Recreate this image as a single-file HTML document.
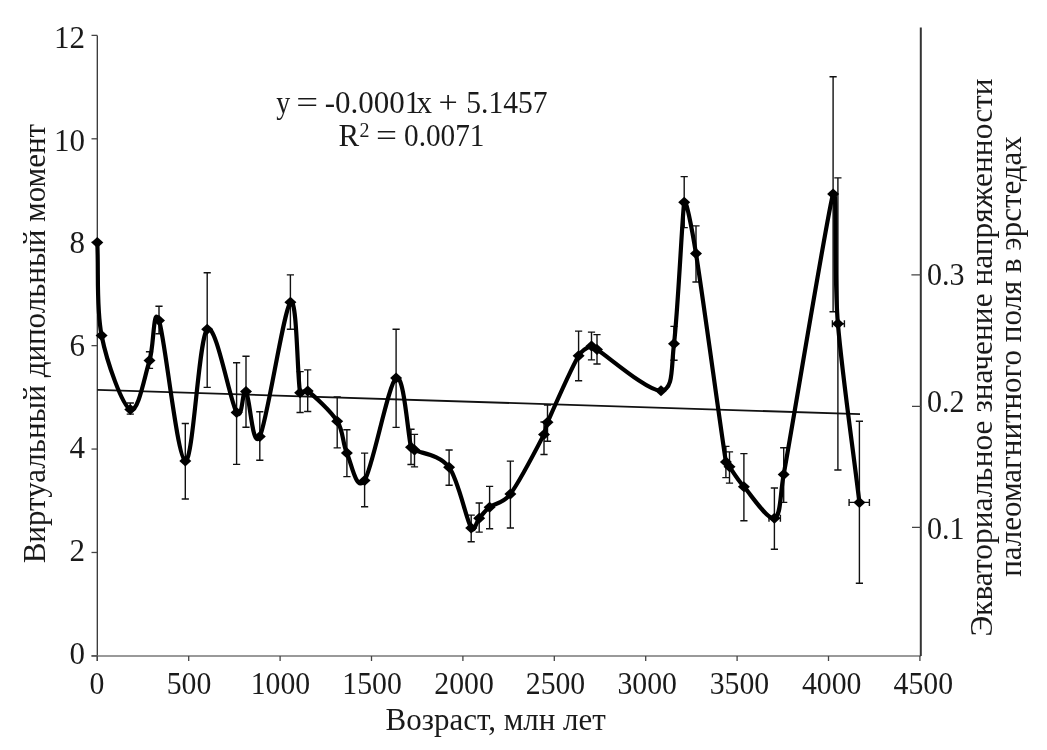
<!DOCTYPE html>
<html><head><meta charset="utf-8"><style>
html,body{margin:0;padding:0;background:#fff;width:1047px;height:750px;overflow:hidden}
svg{display:block;will-change:transform}
text{font-family:"Liberation Serif",serif;fill:#1a1a1a}
</style></head><body>
<svg width="1047" height="750" viewBox="0 0 1047 750">
<rect width="1047" height="750" fill="#fff"/>
<g stroke="#444" stroke-width="1.3" fill="none">
<path d="M97.3,35.4 V661" stroke="#333"/>
<path d="M91.5,656 H920.8" stroke="#777" stroke-width="1.6"/>
<path d="M920.8,27.6 V656" stroke="#333" stroke-width="2"/>
<path d="M91.5,655.90 H97.3"/><path d="M91.5,552.48 H97.3"/><path d="M91.5,449.06 H97.3"/><path d="M91.5,345.64 H97.3"/><path d="M91.5,242.22 H97.3"/><path d="M91.5,138.80 H97.3"/><path d="M91.5,35.38 H97.3"/><path d="M97.30,656 V661"/><path d="M188.70,656 V661"/><path d="M280.10,656 V661"/><path d="M371.50,656 V661"/><path d="M462.90,656 V661"/><path d="M554.30,656 V661"/><path d="M645.70,656 V661"/><path d="M737.10,656 V661"/><path d="M828.50,656 V661"/><path d="M919.90,656 V661"/>
<path d="M911.4,274.8 H920.8 M912,406.4 H920.8 M912,527.4 H920.8"/>
</g>
<g font-size="31" text-anchor="middle"><text transform="translate(97.00,694) scale(0.96,1)">0</text><text transform="translate(189.00,694) scale(0.96,1)">500</text><text transform="translate(280.40,694) scale(0.96,1)">1000</text><text transform="translate(372.10,694) scale(0.96,1)">1500</text><text transform="translate(464.10,694) scale(0.96,1)">2000</text><text transform="translate(555.50,694) scale(0.96,1)">2500</text><text transform="translate(647.20,694) scale(0.96,1)">3000</text><text transform="translate(739.40,694) scale(0.96,1)">3500</text><text transform="translate(831.70,694) scale(0.96,1)">4000</text><text transform="translate(923.30,694) scale(0.96,1)">4500</text></g>
<g font-size="31" text-anchor="end"><text x="85" y="664.00">0</text><text x="85" y="561.30">2</text><text x="85" y="458.30">4</text><text x="85" y="355.50">6</text><text x="85" y="253.10">8</text><text x="85" y="150.50">10</text><text x="85" y="47.80">12</text></g>
<g font-size="31" text-anchor="start">
<text transform="translate(927,285) scale(0.97,1)">0.3</text><text transform="translate(927,412) scale(0.97,1)">0.2</text><text transform="translate(927,538.5) scale(0.97,1)">0.1</text>
</g>
<path d="M97.3,389.9 L860,414.1" stroke="#111" stroke-width="1.8" fill="none"/>
<g stroke="#111" stroke-width="1.4" fill="none">
<path d="M130.3,403.0 V414.1 M126.7,403.0 H133.9 M126.7,414.1 H133.9"/><path d="M149.5,351.8 V368.4 M145.9,351.8 H153.1 M145.9,368.4 H153.1"/><path d="M159.0,306.3 V333.8 M155.4,306.3 H162.6 M155.4,333.8 H162.6"/><path d="M185.3,423.5 V499.0 M181.7,423.5 H188.9 M181.7,499.0 H188.9"/><path d="M207.2,272.7 V387.4 M203.6,272.7 H210.8 M203.6,387.4 H210.8"/><path d="M236.6,362.8 V464.4 M233.0,362.8 H240.2 M233.0,464.4 H240.2"/><path d="M246.0,356.2 V427.3 M242.4,356.2 H249.6 M242.4,427.3 H249.6"/><path d="M259.8,411.7 V460.2 M256.2,411.7 H263.4 M256.2,460.2 H263.4"/><path d="M290.4,274.9 V329.3 M286.8,274.9 H294.0 M286.8,329.3 H294.0"/><path d="M300.1,371.6 V412.5 M296.5,371.6 H303.7 M296.5,412.5 H303.7"/><path d="M307.7,369.9 V411.5 M304.1,369.9 H311.3 M304.1,411.5 H311.3"/><path d="M337.2,396.9 V447.9 M333.6,396.9 H340.8 M333.6,447.9 H340.8"/><path d="M346.9,429.8 V476.6 M343.3,429.8 H350.5 M343.3,476.6 H350.5"/><path d="M364.6,453.1 V506.8 M361.0,453.1 H368.2 M361.0,506.8 H368.2"/><path d="M396.1,329.3 V427.4 M392.5,329.3 H399.7 M392.5,427.4 H399.7"/><path d="M411.0,429.2 V464.5 M407.4,429.2 H414.6 M407.4,464.5 H414.6"/><path d="M414.5,434.4 V466.9 M410.9,434.4 H418.1 M410.9,466.9 H418.1"/><path d="M449.1,450.0 V485.3 M445.5,450.0 H452.7 M445.5,485.3 H452.7"/><path d="M471.2,515.1 V541.8 M467.6,515.1 H474.8 M467.6,541.8 H474.8"/><path d="M479.2,503.0 V532.1 M475.6,503.0 H482.8 M475.6,532.1 H482.8"/><path d="M489.6,486.4 V528.7 M486.0,486.4 H493.2 M486.0,528.7 H493.2"/><path d="M510.4,461.1 V528.0 M506.8,461.1 H514.0 M506.8,528.0 H514.0"/><path d="M544.0,422.0 V454.5 M540.4,422.0 H547.6 M540.4,454.5 H547.6"/><path d="M547.5,405.0 V441.3 M543.9,405.0 H551.1 M543.9,441.3 H551.1"/><path d="M578.6,331.1 V380.7 M575.0,331.1 H582.2 M575.0,380.7 H582.2"/><path d="M591.5,332.1 V359.9 M587.9,332.1 H595.1 M587.9,359.9 H595.1"/><path d="M597.0,334.6 V364.0 M593.4,334.6 H600.6 M593.4,364.0 H600.6"/><path d="M674.0,326.4 V360.3 M670.4,326.4 H677.6 M670.4,360.3 H677.6"/><path d="M684.2,176.6 V227.6 M680.6,176.6 H687.8 M680.6,227.6 H687.8"/><path d="M696.0,225.9 V282.0 M692.4,225.9 H699.6 M692.4,282.0 H699.6"/><path d="M725.9,446.4 V477.6 M722.3,446.4 H729.5 M722.3,477.6 H729.5"/><path d="M729.5,451.9 V483.1 M725.9,451.9 H733.1 M725.9,483.1 H733.1"/><path d="M743.9,453.6 V520.8 M740.3,453.6 H747.5 M740.3,520.8 H747.5"/><path d="M774.4,488.0 V549.2 M770.8,488.0 H778.0 M770.8,549.2 H778.0"/><path d="M769.0,518.3 H780.4 M769.0,514.8 V521.8 M780.4,514.8 V521.8"/><path d="M783.7,447.7 V502.4 M780.1,447.7 H787.3 M780.1,502.4 H787.3"/><path d="M833.1,76.8 V311.7 M829.5,76.8 H836.7 M829.5,311.7 H836.7"/><path d="M837.9,177.9 V470.0 M834.3,177.9 H841.5 M834.3,470.0 H841.5"/><path d="M832.4,323.7 H844.4 M832.4,320.2 V327.2 M844.4,320.2 V327.2"/><path d="M859.4,421.2 V583.3 M855.8,421.2 H863.0 M855.8,583.3 H863.0"/><path d="M849.1,502.4 H869.4 M849.1,498.9 V505.9 M869.4,498.9 V505.9"/>
</g>
<path d="M97.30,242.50 C98.73,273.50 96.10,307.67 101.60,335.50 C107.10,363.33 122.32,405.32 130.30,409.50 C138.28,413.68 144.72,375.43 149.50,360.60 C154.28,345.77 153.03,303.78 159.00,320.50 C164.97,337.22 177.27,459.45 185.30,460.90 C193.33,462.35 198.65,337.28 207.20,329.20 C215.75,321.12 230.13,402.00 236.60,412.40 C242.63,422.09 242.13,387.57 246.00,391.60 C249.87,395.63 252.40,451.48 259.80,436.60 C267.20,421.72 283.68,309.60 290.40,302.30 C297.12,295.00 297.22,378.02 300.10,392.80 C300.85,396.63 304.60,388.63 307.70,391.00 C313.88,395.73 330.67,410.85 337.20,421.20 C343.73,431.55 342.33,443.23 346.90,453.10 C351.47,462.97 356.40,492.93 364.60,480.40 C372.80,467.87 388.37,383.43 396.10,377.90 C403.83,372.37 407.93,435.18 411.00,447.20 C411.55,449.37 412.52,448.95 414.50,450.00 C420.85,453.35 439.65,454.30 449.10,467.30 C458.55,480.30 466.18,519.50 471.20,528.00 C474.40,533.41 476.13,521.77 479.20,518.30 C482.27,514.83 484.40,511.25 489.60,507.20 C494.80,503.15 503.03,503.87 510.40,494.00 C519.47,481.87 537.82,446.35 544.00,434.40 C546.89,428.81 544.97,428.07 547.50,422.30 C553.27,409.18 571.27,368.42 578.60,355.70 C582.63,348.71 588.43,347.03 591.50,346.00 C594.57,344.97 594.26,347.74 597.00,349.50 C608.58,356.95 648.17,391.65 661.00,390.70 C673.83,389.75 671.03,367.95 674.00,343.80 C677.87,312.40 682.73,208.31 684.20,202.30 C685.67,196.29 691.83,227.61 696.00,253.60 C702.95,296.88 720.32,426.47 725.90,462.00 C726.37,464.96 727.73,464.38 729.50,466.80 C732.50,470.92 736.42,478.12 743.90,486.70 C751.38,495.28 767.77,520.35 774.40,518.30 C781.03,516.25 779.70,496.48 783.70,474.40 C793.48,420.35 828.58,206.56 833.10,194.00 C837.62,181.44 833.52,272.30 837.90,323.70 C842.28,375.10 852.23,442.83 859.40,502.40" stroke="#000" stroke-width="4.2" fill="none" stroke-linejoin="round"/>
<g fill="#000"><path d="M97.30,237.00 l6,5.5 l-6,5.5 l-6,-5.5z"/><path d="M101.60,330.00 l6,5.5 l-6,5.5 l-6,-5.5z"/><path d="M130.30,404.00 l6,5.5 l-6,5.5 l-6,-5.5z"/><path d="M149.50,355.10 l6,5.5 l-6,5.5 l-6,-5.5z"/><path d="M159.00,315.00 l6,5.5 l-6,5.5 l-6,-5.5z"/><path d="M185.30,455.40 l6,5.5 l-6,5.5 l-6,-5.5z"/><path d="M207.20,323.70 l6,5.5 l-6,5.5 l-6,-5.5z"/><path d="M236.60,406.90 l6,5.5 l-6,5.5 l-6,-5.5z"/><path d="M246.00,386.10 l6,5.5 l-6,5.5 l-6,-5.5z"/><path d="M259.80,431.10 l6,5.5 l-6,5.5 l-6,-5.5z"/><path d="M290.40,296.80 l6,5.5 l-6,5.5 l-6,-5.5z"/><path d="M300.10,387.30 l6,5.5 l-6,5.5 l-6,-5.5z"/><path d="M307.70,385.50 l6,5.5 l-6,5.5 l-6,-5.5z"/><path d="M337.20,415.70 l6,5.5 l-6,5.5 l-6,-5.5z"/><path d="M346.90,447.60 l6,5.5 l-6,5.5 l-6,-5.5z"/><path d="M364.60,474.90 l6,5.5 l-6,5.5 l-6,-5.5z"/><path d="M396.10,372.40 l6,5.5 l-6,5.5 l-6,-5.5z"/><path d="M411.00,441.70 l6,5.5 l-6,5.5 l-6,-5.5z"/><path d="M414.50,444.50 l6,5.5 l-6,5.5 l-6,-5.5z"/><path d="M449.10,461.80 l6,5.5 l-6,5.5 l-6,-5.5z"/><path d="M471.20,522.50 l6,5.5 l-6,5.5 l-6,-5.5z"/><path d="M479.20,512.80 l6,5.5 l-6,5.5 l-6,-5.5z"/><path d="M489.60,501.70 l6,5.5 l-6,5.5 l-6,-5.5z"/><path d="M510.40,488.50 l6,5.5 l-6,5.5 l-6,-5.5z"/><path d="M544.00,428.90 l6,5.5 l-6,5.5 l-6,-5.5z"/><path d="M547.50,416.80 l6,5.5 l-6,5.5 l-6,-5.5z"/><path d="M578.60,350.20 l6,5.5 l-6,5.5 l-6,-5.5z"/><path d="M591.50,340.50 l6,5.5 l-6,5.5 l-6,-5.5z"/><path d="M597.00,344.00 l6,5.5 l-6,5.5 l-6,-5.5z"/><path d="M661.00,385.20 l6,5.5 l-6,5.5 l-6,-5.5z"/><path d="M674.00,338.30 l6,5.5 l-6,5.5 l-6,-5.5z"/><path d="M684.20,196.80 l6,5.5 l-6,5.5 l-6,-5.5z"/><path d="M696.00,248.10 l6,5.5 l-6,5.5 l-6,-5.5z"/><path d="M725.90,456.50 l6,5.5 l-6,5.5 l-6,-5.5z"/><path d="M729.50,461.30 l6,5.5 l-6,5.5 l-6,-5.5z"/><path d="M743.90,481.20 l6,5.5 l-6,5.5 l-6,-5.5z"/><path d="M774.40,512.80 l6,5.5 l-6,5.5 l-6,-5.5z"/><path d="M783.70,468.90 l6,5.5 l-6,5.5 l-6,-5.5z"/><path d="M833.10,188.50 l6,5.5 l-6,5.5 l-6,-5.5z"/><path d="M837.90,318.20 l6,5.5 l-6,5.5 l-6,-5.5z"/><path d="M859.40,496.90 l6,5.5 l-6,5.5 l-6,-5.5z"/></g>
<g font-size="31" text-anchor="middle">
<g text-anchor="start">
<text transform="translate(276.3,112.6) scale(0.9,1)">y</text>
<text transform="translate(296.2,112.6) scale(1.25,1)" x="0" y="0">=</text>
<text x="324.8" y="112.6">-0.0001</text><text x="416.5" y="112.6">x</text>
<text transform="translate(438.5,112.6) scale(1.1,1)">+</text>
<text transform="translate(466.2,112.6) scale(0.955,1)">5.1457</text>
<text x="338.5" y="146.1">R</text>
<text x="359.4" y="136.8" font-size="20">2</text>
<text transform="translate(376,146.1) scale(1.2,1)">=</text>
<text transform="translate(404,146.1) scale(0.945,1)">0.0071</text>
</g>
<text x="495.7" y="729.7">Возраст, млн лет</text>
<text transform="translate(44.8,343.6) rotate(-90)">Виртуальный дипольный момент</text>
<text transform="translate(991.5,357.5) rotate(-90) scale(1.0137,1)">Экваториальное значение напряженности</text>
<text transform="translate(1020.7,356.5) rotate(-90)">палеомагнитного поля в эрстедах</text>
</g>
</svg>
</body></html>
